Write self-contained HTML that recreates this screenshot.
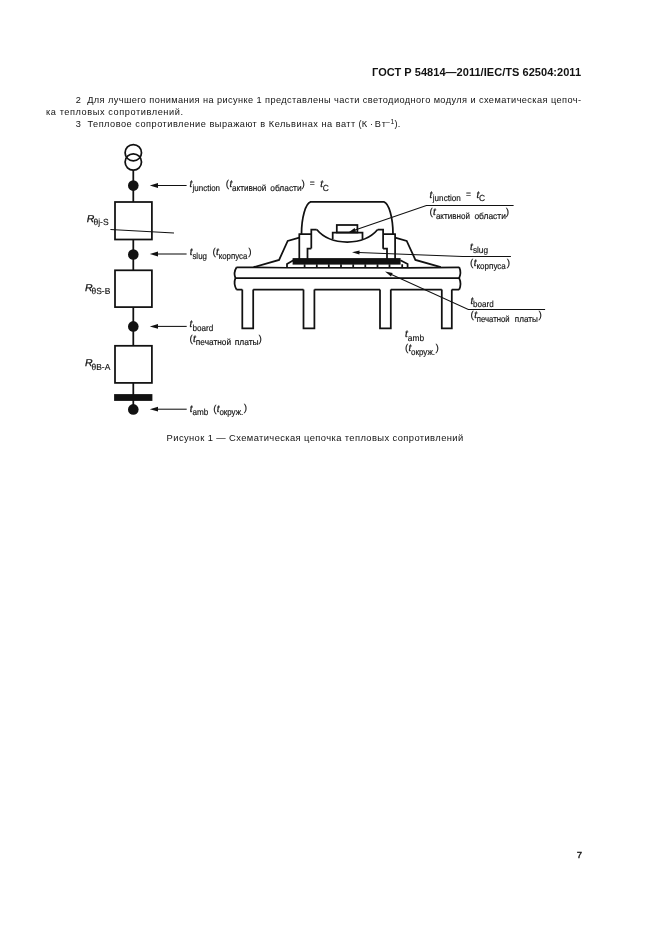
<!DOCTYPE html>
<html lang="ru">
<head>
<meta charset="utf-8">
<title>ГОСТ Р 54814—2011/IEC/TS 62504:2011</title>
<style>
html,body{margin:0;padding:0;background:#fff;}
body{width:661px;height:936px;overflow:hidden;position:relative;}
svg{position:absolute;left:0;top:0;display:block;will-change:transform;}
text{font-family:"Liberation Sans",sans-serif;fill:#111;}
.lab text{text-rendering:geometricPrecision;}
.b{font-weight:bold;}
.i{font-style:italic;}
.ln{fill:none;stroke:#111;stroke-width:1.75;stroke-linejoin:miter;stroke-linecap:butt;}
.th{fill:none;stroke:#111;stroke-width:1.05;}
.lab text{stroke:#111;stroke-width:0.15;}
.lab text.i{stroke-width:0.25;}
</style>
</head>
<body>
<svg width="661" height="936" viewBox="0 0 661 936">
<rect x="0" y="0" width="661" height="936" fill="#fff"/>
<!-- header -->
<text class="b" x="372" y="76.2" font-size="11" textLength="209" lengthAdjust="spacing">ГОСТ Р 54814—2011/IEC/TS 62504:2011</text>
<!-- body text -->
<g font-size="9.2">
<text x="75.7" y="103" textLength="505.3" lengthAdjust="spacing" xml:space="preserve">2  Для лучшего понимания на рисунке 1 представлены части светодиодного модуля и схематическая цепоч-</text>
<text x="46" y="114.6" textLength="137" lengthAdjust="spacing">ка тепловых сопротивлений.</text>
<text x="75.7" y="127.3" textLength="279.6" lengthAdjust="spacing" xml:space="preserve">3  Тепловое сопротивление выражают в Кельвинах на ватт</text>
<text x="358.6" y="127.3">(К</text>
<text x="370" y="127.3">·</text>
<text x="374.8" y="127.3" textLength="11.2" lengthAdjust="spacing">Вт</text>
<text x="386" y="124.2" font-size="6.8" textLength="8.2" lengthAdjust="spacing">–1</text>
<text x="394.6" y="127.3">).</text>
</g>
<!-- caption -->
<text x="166.6" y="441.1" font-size="9.4" textLength="296.6" lengthAdjust="spacing">Рисунок 1 — Схематическая цепочка тепловых сопротивлений</text>
<!-- page number -->
<text x="576.7" y="858" font-size="9.6" stroke="#111" stroke-width="0.3">7</text>

<!-- LEFT CHAIN -->
<g id="chain">
<circle class="ln" cx="133.3" cy="152.7" r="8.2"/>
<circle class="ln" cx="133.3" cy="162" r="8.2"/>
<path class="ln" d="M133.3 170V202 M133.3 239V270.3 M133.3 307V345.8 M133.3 383V409"/>
<rect class="ln" x="115" y="202" width="36.9" height="37.5"/>
<rect class="ln" x="115" y="270.3" width="36.9" height="36.8"/>
<rect class="ln" x="115" y="345.8" width="36.9" height="37.1"/>
<circle cx="133.3" cy="185.6" r="5.3" fill="#111"/>
<circle cx="133.3" cy="254.5" r="5.3" fill="#111"/>
<circle cx="133.3" cy="326.4" r="5.3" fill="#111"/>
<rect x="114.1" y="394.1" width="38.3" height="6.8" fill="#111"/>
<circle cx="133.3" cy="409.4" r="5.3" fill="#111"/>
<path class="th" d="M110.4 229.5L174 233"/>
</g>
<g class="lab">
<!-- LEFT LABELS -->
<text class="i" x="86.7" y="221.8" font-size="10" textLength="7.6" lengthAdjust="spacingAndGlyphs">R</text>
<text x="93.4" y="225.4" font-size="8.8" textLength="15.2" lengthAdjust="spacingAndGlyphs">θj-S</text>
<text class="i" x="84.9" y="290.5" font-size="10" textLength="7.6" lengthAdjust="spacingAndGlyphs">R</text>
<text x="91.5" y="293.9" font-size="8.8" textLength="18.8" lengthAdjust="spacingAndGlyphs">θS-B</text>
<text class="i" x="84.9" y="366.0" font-size="10" textLength="7.6" lengthAdjust="spacingAndGlyphs">R</text>
<text x="91.5" y="369.7" font-size="8.8" textLength="18.8" lengthAdjust="spacingAndGlyphs">θB-A</text>
<text class="i" x="189.5" y="187.0" font-size="10">t</text>
<text x="192.6" y="190.8" font-size="8.8" textLength="27.4" lengthAdjust="spacingAndGlyphs">junction</text>
<text x="225.8" y="187.0" font-size="10">(</text>
<text class="i" x="229.4" y="187.0" font-size="10">t</text>
<text x="232.1" y="190.8" font-size="8.8" textLength="34.3" lengthAdjust="spacingAndGlyphs">активной</text>
<text x="270.3" y="190.8" font-size="8.8" textLength="31.3" lengthAdjust="spacingAndGlyphs">области</text>
<text x="301.4" y="186.5" font-size="10">)</text>
<text x="309.8" y="186.3" font-size="8.5">=</text>
<text class="i" x="320.2" y="187.0" font-size="10">t</text>
<text x="322.7" y="190.7" font-size="8.8" textLength="6.1" lengthAdjust="spacingAndGlyphs">C</text>
<path class="th" d="M157 185.5H186.6"/>
<path fill="#111" d="M149.8 185.5L158 187.9V183.1Z"/>
<text class="i" x="189.7" y="255.1" font-size="10">t</text>
<text x="192.4" y="258.9" font-size="8.8" textLength="14.6" lengthAdjust="spacingAndGlyphs">slug</text>
<text x="212.4" y="255.1" font-size="10">(</text>
<text class="i" x="216.0" y="255.1" font-size="10">t</text>
<text x="218.7" y="258.9" font-size="8.8" textLength="28.6" lengthAdjust="spacingAndGlyphs">корпуса</text>
<text x="248.2" y="254.6" font-size="10">)</text>
<path class="th" d="M157 254H186.6"/>
<path fill="#111" d="M149.8 254L158 256.4V251.6Z"/>
<text class="i" x="189.6" y="327.3" font-size="10">t</text>
<text x="192.4" y="330.7" font-size="8.8" textLength="20.8" lengthAdjust="spacingAndGlyphs">board</text>
<text x="189.4" y="342.0" font-size="10">(</text>
<text class="i" x="193.0" y="342.0" font-size="10">t</text>
<text x="195.8" y="345.4" font-size="8.8" textLength="35.3" lengthAdjust="spacingAndGlyphs">печатной</text>
<text x="234.7" y="345.4" font-size="8.8" textLength="24.0" lengthAdjust="spacingAndGlyphs">платы</text>
<text x="258.5" y="341.5" font-size="10">)</text>
<path class="th" d="M157 326.4H186.7"/>
<path fill="#111" d="M149.8 326.4L158 328.8V324Z"/>
<text class="i" x="189.7" y="411.7" font-size="10">t</text>
<text x="192.4" y="415.2" font-size="8.8" textLength="15.8" lengthAdjust="spacingAndGlyphs">amb</text>
<text x="213.2" y="411.7" font-size="10">(</text>
<text class="i" x="216.7" y="411.7" font-size="10">t</text>
<text x="219.4" y="415.2" font-size="8.8" textLength="23.8" lengthAdjust="spacingAndGlyphs">окруж.</text>
<text x="243.7" y="411.2" font-size="10">)</text>
<path class="th" d="M157 409.2H186.7"/>
<path fill="#111" d="M149.8 409.2L158 411.6V406.8Z"/>
<!-- RIGHT LABELS -->
<text class="i" x="429.6" y="197.9" font-size="10">t</text>
<text x="432.8" y="201.2" font-size="8.8" textLength="28.0" lengthAdjust="spacingAndGlyphs">junction</text>
<text x="466.1" y="197.2" font-size="8.5">=</text>
<text class="i" x="476.5" y="197.9" font-size="10">t</text>
<text x="478.9" y="201.3" font-size="8.8" textLength="6.1" lengthAdjust="spacingAndGlyphs">C</text>
<text x="429.4" y="215.3" font-size="10">(</text>
<text class="i" x="433.1" y="215.3" font-size="10">t</text>
<text x="435.9" y="218.8" font-size="8.8" textLength="34.0" lengthAdjust="spacingAndGlyphs">активной</text>
<text x="474.4" y="218.8" font-size="8.8" textLength="31.5" lengthAdjust="spacingAndGlyphs">области</text>
<text x="505.7" y="214.8" font-size="10">)</text>
<text class="i" x="470.1" y="249.7" font-size="10">t</text>
<text x="472.9" y="253.2" font-size="8.8" textLength="15.2" lengthAdjust="spacingAndGlyphs">slug</text>
<text x="469.9" y="266.0" font-size="10">(</text>
<text class="i" x="473.8" y="266.0" font-size="10">t</text>
<text x="476.5" y="269.0" font-size="8.8" textLength="29.3" lengthAdjust="spacingAndGlyphs">корпуса</text>
<text x="506.7" y="265.5" font-size="10">)</text>
<text class="i" x="470.6" y="304.1" font-size="10">t</text>
<text x="473.1" y="307.4" font-size="8.8" textLength="20.6" lengthAdjust="spacingAndGlyphs">board</text>
<text x="470.4" y="318.3" font-size="10">(</text>
<text class="i" x="474.3" y="318.3" font-size="10">t</text>
<text x="476.8" y="321.6" font-size="8.8" textLength="32.8" lengthAdjust="spacingAndGlyphs">печатной</text>
<text x="514.8" y="321.6" font-size="8.8" textLength="23.1" lengthAdjust="spacingAndGlyphs">платы</text>
<text x="538.5" y="317.8" font-size="10">)</text>
<text class="i" x="405.1" y="337.3" font-size="10">t</text>
<text x="407.8" y="340.8" font-size="8.8" textLength="16.3" lengthAdjust="spacingAndGlyphs">amb</text>
<text x="404.9" y="351.4" font-size="10">(</text>
<text class="i" x="408.5" y="351.4" font-size="10">t</text>
<text x="411.0" y="354.9" font-size="8.8" textLength="24.0" lengthAdjust="spacingAndGlyphs">окруж.</text>
<text x="435.4" y="350.9" font-size="10">)</text>
</g>
<!-- lead lines -->
<path class="th" d="M354.4 230.3L426.4 205.5H513.6"/>
<path fill="#111" d="M348.3 232.4L356.0 231.8L354.7 228.1Z"/>
<path class="th" d="M358.5 252.5L462.7 256.5H510.9"/>
<path fill="#111" d="M352.0 252.2L359.4 254.5L359.6 250.5Z"/>
<path class="th" d="M390.9 274.3L468.3 309.5H545.1"/>
<path fill="#111" d="M385.0 271.6L391.0 276.5L392.7 272.9Z"/>
<!-- LED MODULE -->
<g id="led">
<!-- board -->
<path class="ln" d="M236.4 267.3L287 267.75H408L459.2 267.3 M235.4 278.1H459.2 M236.4 289.6H242.3 M253.2 289.6H303.5 M314.4 289.6H380 M390.8 289.6H441.8 M451.8 289.6H459.2"/>
<path class="ln" d="M236.6 267.2Q233.2 272.6 235.4 278.1Q233.2 283.8 236.6 289.6"/>
<path class="ln" d="M459.2 267.2Q461.6 272.6 459.2 278.1Q461.8 283.8 459.2 289.6"/>
<!-- fins -->
<path class="ln" d="M242.3 289.6V328.3H253.2V289.6 M303.5 289.6V328.3H314.4V289.6 M380 289.6V328.3H390.8V289.6 M441.8 289.6V328.3H451.8V289.6"/>
<!-- pad plate -->
<path class="ln" d="M293.4 260.3L287 264V267.7 M400.4 260.3L407.6 264V267.7"/>
<rect x="292.6" y="258.1" width="108" height="6.5" fill="#111"/>
<path class="ln" d="M304.6 264.3V267.4 M316.8 264.3V267.4 M328.8 264.3V267.4 M341.0 264.3V267.4 M353.2 264.3V267.4 M365.3 264.3V267.4 M377.5 264.3V267.4 M389.5 264.3V267.4 M402.2 264.3V267.4"/>
<!-- walls -->
<path class="ln" d="M299.3 259V234.1 M298.5 234.1H311.3 M311.3 248.5V229.5H316.7 M311.3 248.5H307.5V259"/>
<path class="ln" d="M395.1 259V234.1 M395.9 234.1H383.1 M383.1 248.7V229.5H377.7 M383.1 248.7H387V259"/>
<!-- cup -->
<path class="ln" d="M316.7 229.5C323 237 334 242 347.2 242C360.4 242 371.4 237 377.7 229.5"/>
<!-- dome -->
<path class="ln" d="M301.5 234C301.5 218 305.5 203.2 310.6 201.8H383.9C389 203.2 393 218 393 234"/>
<!-- chip -->
<rect class="ln" x="336.8" y="225" width="20.6" height="7.5"/>
<path class="ln" d="M332.7 239V232.5H362.5V239"/>
<!-- flanges -->
<path class="ln" d="M299.3 237.7L287.7 240.9L279.1 259.9L253.6 267.2"/>
<path class="ln" d="M395.1 237.7L406.7 240.9L415.4 259.9L440.8 267.2"/>
</g>
</svg>
</body>
</html>
